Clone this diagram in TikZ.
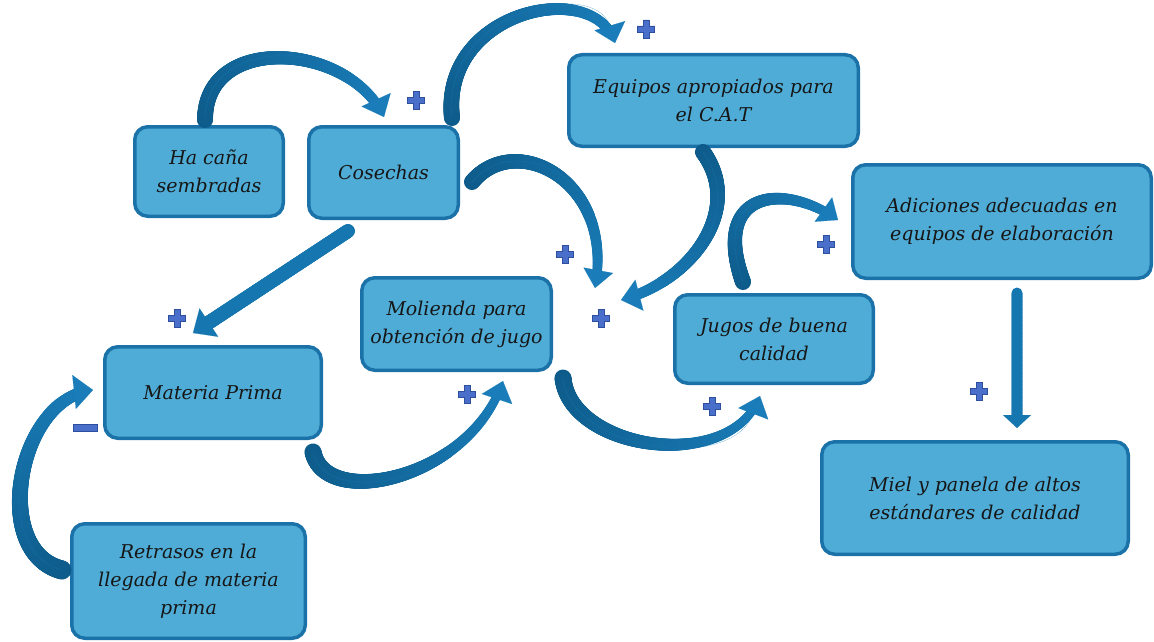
\documentclass[tikz,border=0pt]{standalone}
\usepackage{fontspec}
\setmainfont{DejaVu Serif}
\usetikzlibrary{calc,arrows.meta,decorations.markings}

\definecolor{boxfill}{HTML}{4FACD6}
\definecolor{boxline}{HTML}{1A72A8}
\definecolor{rtail}{HTML}{0D5B8A}
\definecolor{rhead}{HTML}{1A7DB9}
\definecolor{rflat}{HTML}{1676B0}
\definecolor{pfill}{HTML}{4A6FCB}
\definecolor{pline}{HTML}{2E4E9E}
\definecolor{inktext}{HTML}{161616}

\tikzset{
  box/.style={draw=boxline, fill=boxfill, line width=3.5pt, rounded corners=13pt,
    inner sep=0pt, align=center, text=inktext,
    font=\fontsize{19}{28}\selectfont\itshape},
  % tapered arrow body: tail radius, end radius, head width, head length, stop before end
  ribbon tail/.initial=rtail,
  ribbon head/.initial=rhead,
  ribbon/.style n args={5}{draw=\pgfkeysvalueof{/tikz/ribbon head}, line width=0.1pt,
    -{Triangle[width=#3, length=#4]},
    preaction={decorate, decoration={markings,
    mark=between positions 0 and -#5 step 0.8pt with {%
      \pgfmathsetmacro\ribt{(\pgfkeysvalueof{/pgf/decoration/mark info/distance from start})/(\pgfdecoratedpathlength)}%
      \pgfmathsetmacro\ribr{#1+(#2-#1)*\ribt}%
      \pgfmathsetmacro\ribc{100*\ribt}%
      \colorlet{ribfill}{\pgfkeysvalueof{/tikz/ribbon head}!\ribc!\pgfkeysvalueof{/tikz/ribbon tail}}%
      \fill[ribfill] (0,0) circle (\ribr pt);}}}},
  plusmark/.pic={
    \filldraw[fill=pfill, draw=pline, line width=0.7pt]
      (-8.5,-3) -- (-3,-3) -- (-3,-9) -- (3,-9) -- (3,-3) -- (8.5,-3)
      -- (8.5,3) -- (3,3) -- (3,9) -- (-3,9) -- (-3,3) -- (-8.5,3) -- cycle;},
  minusmark/.pic={
    \filldraw[fill=pfill, draw=pline, line width=0.7pt] (-12,-3.5) rectangle (12,3.5);},
}

\begin{document}
\begin{tikzpicture}[x=1pt, y=-1pt]
\useasboundingbox (0,0) rectangle (1154,642);

% boxes
\node[box, minimum width=148.5pt, minimum height=89.5pt] (ha) at (209,171.5) {Ha caña\\sembradas};
\node[box, minimum width=149.5pt, minimum height=91.5pt] (cos) at (383.5,172.5) {Cosechas};
\node[box, minimum width=289.5pt, minimum height=91.5pt] (equ) at (713.5,100.5) {Equipos apropiados para\\el C.A.T};
\node[box, minimum width=298.5pt, minimum height=113.5pt] (adi) at (1002,221.5) {Adiciones adecuadas en\\equipos de elaboración};
\node[box, minimum width=216.5pt, minimum height=91.5pt] (mat) at (213,392.5) {Materia Prima};
\node[box, minimum width=189.5pt, minimum height=92.5pt] (mol) at (456.5,324) {Molienda para\\obtención de jugo};
\node[box, minimum width=198.5pt, minimum height=88.5pt] (jug) at (774,339) {Jugos de buena\\calidad};
\node[box, minimum width=306.5pt, minimum height=112.5pt] (miel) at (975,498) {Miel y panela de altos\\estándares de calidad};
\node[box, minimum width=233.5pt, minimum height=114.5pt] (ret) at (188.5,581) {Retrasos en la\\llegada de materia\\prima};

% curved connectors
\path[ribbon={8}{5}{32pt}{19pt}{17pt}]
  ($(ha)+(-4,-51.5)$) .. controls +(0,-88) and +(-34,-74) .. ($(cos)+(0.5,-55.5)$);
\path[ribbon={8}{5}{32pt}{18pt}{16pt}]
  ($(cos)+(68.5,-54.5)$) .. controls +(-12,-108) and +(-20,-66) .. ($(equ)+(-98.5,-57.5)$);
\path[ribbon={8}{4.5}{30pt}{18pt}{16pt}]
  ($(cos)+(88.5,9.5)$) .. controls +(43,-52) and +(20,-108) .. ($(mol)+(138.5,-36)$);
\path[ribbon={8}{5}{32pt}{19pt}{17pt}]
  ($(equ)+(-10.5,51.5)$) .. controls +(42,58) and +(69,-18) .. ($(mol)+(164.5,-24)$);
\path[ribbon={8}{4.5}{30pt}{18pt}{16pt}]
  ($(jug)+(-31,-57)$) .. controls +(-33,-92) and +(-53,-38) .. ($(adi)+(-164,-1.5)$);
\path[ribbon={8.5}{4}{32pt}{19pt}{17pt}]
  ($(mat)+(100,59.5)$) .. controls +(12,58) and +(-33,99) .. ($(mol)+(46.5,57)$);
\path[ribbon={8.5}{4}{32pt}{19pt}{17pt}]
  ($(mol)+(106.5,54)$) .. controls +(7,72) and +(-30,79) .. ($(jug)+(-14,57)$);
\path[ribbon={9.5}{5.5}{34pt}{19pt}{17pt}]
  ($(ret)+(-126.5,-11)$) .. controls +(-72,-18) and +(-76,8) .. ($(mat)+(-120,-2.5)$);

% straight connectors
\path[ribbon tail=rflat, ribbon head=rflat, ribbon={7}{7}{34pt}{19pt}{17pt}]
  ($(cos)+(-35.5,58.5)$) -- ($(mat)+(-20,-59.5)$);
\path[ribbon tail=rflat, ribbon head=rflat, ribbon={5.5}{5.5}{28pt}{13pt}{11pt}]
  ($(adi)+(15,71.5)$) -- ($(miel)+(42,-70)$);

% polarity signs
\pic at (416,100) {plusmark};
\pic at (646,29) {plusmark};
\pic at (565,254) {plusmark};
\pic at (601,318) {plusmark};
\pic at (826,244) {plusmark};
\pic at (979,391) {plusmark};
\pic at (177,318) {plusmark};
\pic at (467,394) {plusmark};
\pic at (712,406) {plusmark};
\pic at (85,428) {minusmark};
\end{tikzpicture}
\end{document}
